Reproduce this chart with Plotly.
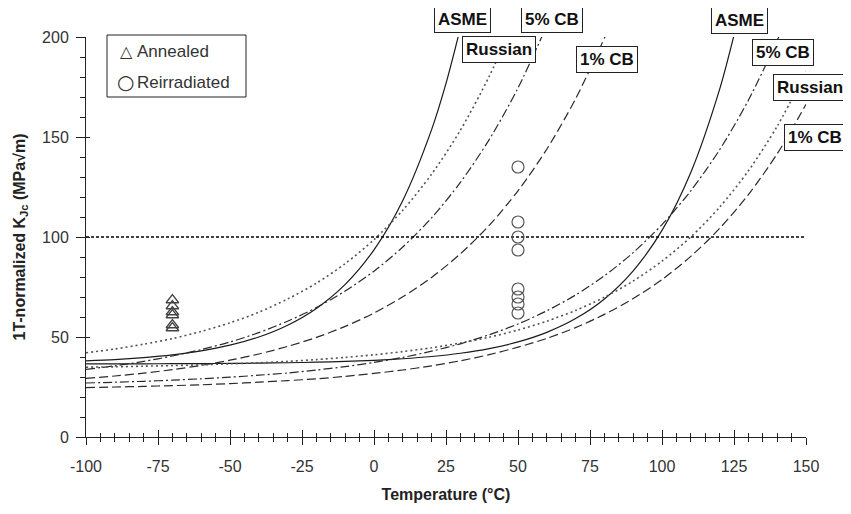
import plotly.graph_objects as go

# ---------------- data ----------------
T_L_ASME = [-100, -90, -80, -70, -60, -50, -40, -30, -20, -10, 0, 10, 20, 25, 30]
K_L_ASME = [38.1, 38.7, 39.7, 41.1, 43.1, 45.9, 50.0, 55.9, 64.3, 76.3, 93.6, 118.3, 153.7, 176.8, 204.5]

T_L_RUS = [-100, -90, -80, -70, -60, -50, -40, -30, -20, -10, 0, 10, 20, 30, 40, 47]
K_L_RUS = [42.1, 44.0, 46.4, 49.2, 52.8, 57.1, 62.4, 69.0, 76.9, 86.7, 98.7, 113.4, 131.4, 153.4, 180.3, 202.8]

T_L_CB5 = [-100, -90, -80, -70, -60, -50, -40, -30, -20, -10, 0, 10, 20, 30, 40, 50, 60]
K_L_CB5 = [33.8, 35.6, 37.8, 40.5, 43.7, 47.5, 52.2, 57.9, 64.7, 73.0, 82.9, 95.0, 109.6, 127.3, 148.7, 174.5, 205.7]

T_L_CB1 = [-100, -90, -80, -70, -60, -50, -40, -30, -20, -10, 0, 10, 20, 30, 40, 50, 60, 70, 80, 82]
K_L_CB1 = [29.3, 30.5, 31.9, 33.7, 35.8, 38.4, 41.5, 45.3, 49.8, 55.3, 62.0, 70.1, 79.8, 91.6, 105.8, 123.1, 143.9, 169.1, 199.5, 206.4]

T_R_ASME = [-100, -90, -80, -70, -60, -50, -40, -30, -20, -10, 0, 10, 20, 30, 40, 50, 60, 70, 80, 90, 100, 110, 120, 125]
K_R_ASME = [36.55, 36.57, 36.6, 36.65, 36.71, 36.8, 36.93, 37.12, 37.39, 37.77, 38.32, 39.12, 40.25, 41.88, 44.21, 47.55, 52.33, 59.2, 69.03, 83.11, 103.3, 132.3, 173.8, 200.9]

T_R_RUS = [-100, -90, -80, -70, -60, -50, -40, -30, -20, -10, 0, 10, 20, 30, 40, 50, 60, 70, 80, 90, 100, 110, 120, 130, 140, 150]
K_R_RUS = [34.9, 35.1, 35.4, 35.7, 36.1, 36.6, 37.1, 37.8, 38.7, 39.8, 41.1, 42.7, 44.6, 47.0, 49.9, 53.5, 57.9, 63.3, 69.9, 78.0, 87.9, 100.0, 114.9, 133.1, 155.4, 182.6]

T_R_CB5 = [-100, -90, -80, -70, -60, -50, -40, -30, -20, -10, 0, 10, 20, 30, 40, 50, 60, 70, 80, 90, 100, 110, 120, 130, 140, 142]
K_R_CB5 = [27.0, 27.4, 27.85, 28.4, 29.1, 29.9, 30.9, 32.0, 33.5, 35.2, 37.3, 39.8, 42.9, 46.6, 51.1, 56.5, 63.1, 71.0, 80.6, 92.2, 106.2, 123.1, 143.6, 168.4, 198.3, 205.1]

T_R_CB1 = [-100, -90, -80, -70, -60, -50, -40, -30, -20, -10, 0, 10, 20, 30, 40, 50, 60, 70, 80, 90, 100, 110, 120, 130, 140, 150]
K_R_CB1 = [24.7, 25.0, 25.3, 25.7, 26.1, 26.7, 27.4, 28.2, 29.1, 30.3, 31.8, 33.5, 35.6, 38.1, 41.2, 44.9, 49.3, 54.7, 61.3, 69.2, 78.7, 90.3, 104.3, 121.2, 141.6, 166.3]

REF_T = [-100, 150]
REF_K = [100, 100]

ANNEALED_T = [-70, -70, -70, -70, -70, -70]
ANNEALED_K = [68.5, 65.5, 62.5, 61.0, 56.0, 54.5]

REIRR_T = [50, 50, 50, 50, 50, 50, 50, 50]
REIRR_K = [135, 107.5, 100, 93.5, 74, 70, 66.5, 62]

X_TICKS = [-100, -75, -50, -25, 0, 25, 50, 75, 100, 125, 150]
Y_TICKS = [0, 50, 100, 150, 200]

# ---------------- styling ----------------
FONT = "Liberation Sans, Arial, sans-serif"
styles = {
    "ASME": dict(color="#1a1a1a", width=1.2, dash="solid"),
    "Russian": dict(color="#555555", width=1.6, dash="2px,3px"),
    "5% CB": dict(color="#2a2a2a", width=1.2, dash="9px,3px,2px,3px"),
    "1% CB": dict(color="#2a2a2a", width=1.2, dash="9px,4px"),
}

fig = go.Figure()

curves = [
    ("ASME", T_L_ASME, K_L_ASME), ("Russian", T_L_RUS, K_L_RUS),
    ("5% CB", T_L_CB5, K_L_CB5), ("1% CB", T_L_CB1, K_L_CB1),
    ("ASME", T_R_ASME, K_R_ASME), ("Russian", T_R_RUS, K_R_RUS),
    ("5% CB", T_R_CB5, K_R_CB5), ("1% CB", T_R_CB1, K_R_CB1),
]
for name, t, k in curves:
    fig.add_trace(go.Scatter(x=t, y=k, mode="lines", name=name,
                             line=dict(shape="spline", smoothing=0.8, **styles[name]),
                             showlegend=False, hoverinfo="skip"))

fig.add_trace(go.Scatter(x=REF_T, y=REF_K, mode="lines",
                         line=dict(color="black", width=1.5, dash="3px,2px"), showlegend=False))

fig.add_trace(go.Scatter(x=ANNEALED_T, y=ANNEALED_K, mode="markers", name="Annealed",
                         marker=dict(symbol="triangle-up-open", size=11, color="#444", line=dict(width=1.3)),
                         showlegend=False))
fig.add_trace(go.Scatter(x=REIRR_T, y=REIRR_K, mode="markers", name="Reirradiated",
                         marker=dict(symbol="circle-open", size=12, color="#555", line=dict(width=1.2)),
                         showlegend=False))

# dummy traces so the overlay tick axes are drawn (crossing ticks)
fig.add_trace(go.Scatter(x=[None], y=[None], xaxis="x2", yaxis="y", showlegend=False))
fig.add_trace(go.Scatter(x=[None], y=[None], xaxis="x", yaxis="y2", showlegend=False))

# page body has an 8px margin: figure is placed at (8, 8) in the window
OFF = 8
W, H = 851 - OFF, 514 - OFF
PL, PR, PT, PB = 86, 806, 37, 437          # plot area in window pixels
def px(xp):
    return (xp - PL) / (PR - PL)
def py(yp):
    return (PB - yp) / (PB - PT)

# curve labels (boxed)
label_pos = [
    ("ASME", 462.5, 19.5), ("5% CB", 551.5, 19.5), ("Russian", 498.5, 50), ("1% CB", 607, 59.5),
    ("ASME", 739, 20), ("5% CB", 782.5, 52.5), ("Russian", 810, 87), ("1% CB", 815, 138),
]
annotations = []
for txt, x0, y0 in label_pos:
    annotations.append(dict(
        text="<b>%s</b>" % txt, x=px(x0), y=py(y0), xref="paper", yref="paper",
        xanchor="center", yanchor="middle", showarrow=False,
        font=dict(family=FONT, size=17, color="#111"),
        bgcolor="white", bordercolor="#222", borderwidth=1, borderpad=3))

# manual legend
annotations += [
    dict(text="\u25B3", x=px(126), y=py(51), xref="paper", yref="paper", xanchor="center", yanchor="middle",
         showarrow=False, font=dict(family="DejaVu Sans", size=16, color="#333")),
    dict(text="Annealed", x=px(135), y=py(51), xref="paper", yref="paper", xanchor="left", yanchor="middle",
         showarrow=False, font=dict(family=FONT, size=17, color="#333")),
    dict(text="\u25CB", x=px(125), y=py(82), xref="paper", yref="paper", xanchor="center", yanchor="middle",
         showarrow=False, font=dict(family="DejaVu Sans", size=20, color="#333")),
    dict(text="Reirradiated", x=px(135), y=py(82), xref="paper", yref="paper", xanchor="left", yanchor="middle",
         showarrow=False, font=dict(family=FONT, size=17, color="#333")),
]

shapes = [dict(type="rect", xref="paper", yref="paper", x0=px(107), x1=px(246), y0=py(97), y1=py(35),
               line=dict(color="#222", width=1), fillcolor="rgba(0,0,0,0)")]

tickfont = dict(family=FONT, size=16, color="#333")
fig.update_layout(
    width=W, height=H,
    margin=dict(l=PL - OFF, r=851 - PR, t=PT - OFF, b=514 - PB, autoexpand=False),
    paper_bgcolor="white", plot_bgcolor="white",
    annotations=annotations, shapes=shapes,
    xaxis=dict(range=[-100, 150], tickvals=X_TICKS, ticktext=[str(v) for v in X_TICKS],
               ticks="outside", ticklen=7, tickwidth=1, tickcolor="#222",
               minor=dict(dtick=5, tick0=-100, ticks="outside", ticklen=4, tickcolor="#222", showgrid=False),
               showline=True, linecolor="#222", linewidth=1, showgrid=False, zeroline=False,
               tickfont=tickfont, ticklabelstandoff=8,
               title=dict(text="<b>Temperature (°C)</b>", font=dict(family=FONT, size=16, color="#222"), standoff=14)),
    xaxis2=dict(range=[-100, 150], overlaying="x", anchor="y", side="bottom",
                tickvals=X_TICKS, ticks="inside", ticklen=7, tickcolor="#222", showticklabels=False,
                minor=dict(dtick=5, tick0=-100, ticks="inside", ticklen=4, tickcolor="#222", showgrid=False),
                showline=False, showgrid=False, zeroline=False),
    yaxis=dict(range=[0, 200], tickvals=Y_TICKS, ticktext=[str(v) for v in Y_TICKS],
               ticks="outside", ticklen=9, tickwidth=1, tickcolor="#222",
               minor=dict(dtick=10, tick0=0, ticks="outside", ticklen=5, tickcolor="#222", showgrid=False),
               showline=True, linecolor="#222", linewidth=1, showgrid=False, zeroline=False,
               tickfont=tickfont, ticklabelstandoff=4,
               title=dict(text="<b>1T-normalized K<sub>Jc</sub> (MPa\u221Am)</b>",
                          font=dict(family=FONT, size=16, color="#222"), standoff=12)),
    yaxis2=dict(range=[0, 200], overlaying="y", anchor="x", side="left",
                tickvals=Y_TICKS, ticks="inside", ticklen=4, tickcolor="#222", showticklabels=False,
                showline=False, showgrid=False, zeroline=False),
)

fig.write_html("out.html")
